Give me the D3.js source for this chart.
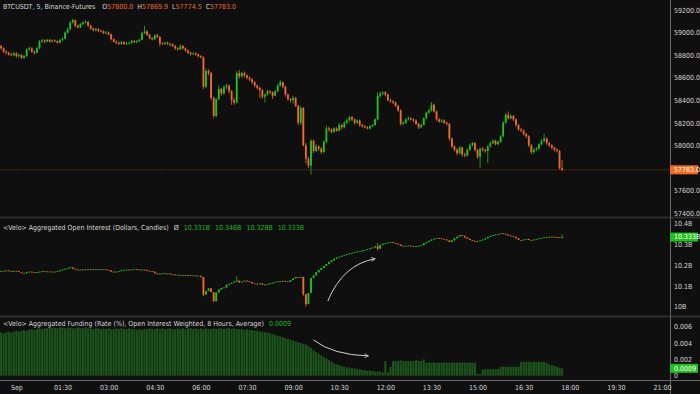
<!DOCTYPE html>
<html lang="en">
<head>
<meta charset="utf-8">
<title>BTCUSDT 5m with OI and funding</title>
<script src="https://cdn.jsdelivr.net/npm/d3@7"></script>
<style>
  body { margin: 0; background: #0f0f0f; }
  svg text { font-family: "Liberation Sans Narrow", "DejaVu Sans Condensed", "Liberation Sans", sans-serif; font-size: 7px; }
</style>
</head>
<body>
<script>

// Width and height
var w = 700;
var h = 394;

// first bar: 23:30 the day before, 5 minute bars
var startTime = Date.UTC(2024, 7, 31, 23, 30);
var barMinutes = 5;

// price candles (open of each bar = close of the bar before)
var priceOpen0 = 58880;
var priceClose = [
  58860,58830,58820,58805,58800,58815,58790,58800,58775,58790,
  58850,58860,58830,58820,58860,58920,58930,58920,58935,58920,
  58930,58925,58910,58935,58945,59000,59030,59090,59110,59060,
  59045,59075,59090,59095,59060,59035,59020,59030,59015,59010,
  58995,59000,58985,58940,58920,58910,58900,58915,58900,58905,
  58910,58925,58915,58925,58935,58995,59010,58980,58950,58940,
  58975,58960,58905,58900,58910,58900,58895,58880,58860,58850,
  58880,58860,58840,58820,58810,58815,58805,58790,58780,58520,
  58660,58640,58420,58260,58410,58500,58460,58520,58530,58480,
  58400,58380,58640,58610,58640,58620,58600,58585,58560,58530,
  58510,58490,58430,58450,58480,58470,58440,58480,58530,58560,
  58520,58450,58410,58400,58420,58350,58200,58330,58000,57880,
  57820,58040,57950,57990,57970,57940,58030,58150,58140,58120,
  58150,58130,58180,58160,58200,58220,58250,58230,58200,58220,
  58180,58170,58160,58150,58170,58180,58230,58440,58460,58470,
  58450,58400,58390,58380,58350,58310,58190,58200,58230,58240,
  58230,58220,58190,58160,58180,58240,58290,58310,58360,58300,
  58230,58210,58220,58200,58190,58060,57990,57960,57930,57980,
  57920,57910,57960,58000,58020,57960,57900,57970,57960,57950,
  57990,58020,58040,58010,58030,58080,58200,58270,58240,58260,
  58230,58180,58140,58130,58100,58080,58000,57940,57960,57970,
  58010,58040,58060,58020,58000,57980,57960,57950,57800,57783
];
var priceHigh = [
  58890,58870,58845,58830,58820,58830,58825,58815,58810,58800,
  58860,58875,58870,58840,58870,58935,58945,58940,58945,58945,
  58940,58940,58930,58945,58960,59010,59045,59100,59125,59115,
  59070,59085,59100,59110,59100,59070,59045,59040,59040,59025,
  59020,59015,59010,58990,58950,58930,58920,58925,58925,58915,
  58920,58935,58935,58935,58945,59005,59060,59020,58990,58960,
  58985,58990,58970,58915,58920,58920,58910,58905,58890,58870,
  58895,58890,58870,58850,58830,58825,58825,58815,58800,58790,
  58680,58675,58650,58430,58420,58530,58510,58530,58545,58540,
  58490,58420,58660,58670,58650,58655,58630,58610,58595,58570,
  58540,58520,58500,58460,58495,58490,58480,58490,58545,58580,
  58565,58530,58460,58420,58440,58430,58360,58350,58340,58020,
  57900,58055,58050,58010,58000,57985,58045,58175,58165,58150,
  58160,58160,58200,58190,58215,58235,58265,58260,58240,58230,
  58230,58190,58180,58170,58180,58190,58240,58470,58475,58480,
  58480,58460,58415,58400,58390,58360,58320,58215,58240,58255,
  58250,58240,58230,58200,58195,58250,58300,58325,58385,58370,
  58310,58240,58235,58230,58210,58200,58070,58000,57975,57995,
  57990,57935,57975,58015,58030,58030,57970,57980,57985,57970,
  58000,58035,58055,58050,58045,58090,58215,58285,58300,58275,
  58270,58240,58190,58155,58140,58110,58090,58010,57975,57985,
  58020,58055,58100,58070,58030,58010,57990,57975,57960,57869.9
];
var priceLow = [
  58850,58820,58805,58795,58790,58790,58780,58780,58765,58770,
  58785,58840,58820,58805,58815,58855,58910,58905,58915,58910,
  58910,58915,58900,58905,58925,58940,58990,59020,59080,59045,
  59035,59040,59065,59080,59050,59025,59010,59010,59005,59000,
  58985,58985,58975,58930,58910,58895,58890,58890,58890,58890,
  58895,58900,58905,58905,58915,58930,58985,58970,58940,58930,
  58935,58950,58880,58890,58890,58890,58880,58870,58845,58840,
  58845,58850,58830,58810,58795,58800,58795,58780,58770,58500,
  58510,58620,58400,58240,58250,58400,58440,58450,58500,58460,
  58360,58360,58370,58590,58600,58600,58585,58570,58545,58515,
  58495,58420,58415,58380,58440,58455,58410,58435,58470,58520,
  58505,58430,58395,58380,58370,58340,58180,58180,57990,57840,
  57800,57740,57930,57940,57950,57925,57930,58020,58120,58105,
  58110,58120,58125,58140,58150,58190,58210,58215,58185,58190,
  58165,58155,58150,58140,58140,58160,58175,58220,58420,58445,
  58435,58390,58375,58365,58340,58295,58175,58180,58190,58220,
  58220,58205,58180,58145,58150,58175,58230,58280,58300,58290,
  58215,58200,58200,58190,58175,58040,57975,57945,57910,57920,
  57900,57895,57900,57950,57990,57945,57880,57800,57945,57935,
  57845,57980,58010,58000,58000,58020,58070,58190,58230,58230,
  58215,58165,58130,58115,58085,58065,57985,57920,57925,57950,
  57960,58000,58030,58005,57985,57965,57945,57935,57785,57774.5
];

// aggregated open interest candles, billions of dollars
var oiOpen0 = 10.170;
var oiClose = [
  10.172,10.170,10.174,10.171,10.168,10.172,10.170,10.166,10.162,10.160,
  10.166,10.168,10.165,10.162,10.166,10.168,10.170,10.167,10.169,10.168,
  10.166,10.168,10.170,10.175,10.178,10.182,10.186,10.188,10.182,10.178,
  10.176,10.178,10.176,10.179,10.178,10.180,10.177,10.179,10.180,10.178,
  10.179,10.177,10.174,10.168,10.166,10.168,10.170,10.175,10.177,10.178,
  10.176,10.178,10.180,10.178,10.176,10.178,10.177,10.172,10.170,10.168,
  10.160,10.156,10.158,10.160,10.157,10.159,10.156,10.154,10.152,10.153,
  10.151,10.152,10.150,10.151,10.149,10.150,10.147,10.148,10.142,10.058,
  10.075,10.088,10.070,10.026,10.068,10.082,10.090,10.092,10.105,10.110,
  10.115,10.120,10.125,10.116,10.120,10.125,10.122,10.118,10.112,10.110,
  10.108,10.112,10.106,10.104,10.108,10.112,10.115,10.118,10.122,10.120,
  10.124,10.122,10.120,10.128,10.136,10.142,10.140,10.143,10.060,10.012,
  10.066,10.138,10.150,10.165,10.176,10.186,10.196,10.205,10.214,10.222,
  10.230,10.236,10.240,10.244,10.248,10.252,10.256,10.258,10.262,10.264,
  10.266,10.270,10.272,10.276,10.280,10.284,10.290,10.278,10.296,10.302,
  10.305,10.308,10.310,10.306,10.302,10.298,10.292,10.290,10.292,10.293,
  10.290,10.288,10.290,10.292,10.295,10.304,10.310,10.316,10.322,10.326,
  10.330,10.328,10.325,10.322,10.318,10.310,10.318,10.328,10.336,10.343,
  10.340,10.332,10.326,10.320,10.316,10.312,10.315,10.318,10.322,10.328,
  10.335,10.340,10.343,10.346,10.348,10.352,10.350,10.346,10.341,10.338,
  10.335,10.328,10.320,10.318,10.322,10.325,10.320,10.318,10.322,10.325,
  10.328,10.330,10.332,10.335,10.333,10.336,10.334,10.333,10.331,10.3338
];
// OI bars with a visible wick: [bar, high, low]
var oiWicks = [
  [27, 10.192, null], [79, null, 10.050], [83, null, 10.022], [92, 10.146, null],
  [118, null, 10.050], [119, null, 10.000], [147, 10.305, 10.270], [219, 10.346, 10.328]
];

// aggregated funding rate (%)
var funding = [
  .0053,.0052,.0053,.0054,.0053,.0054,.0055,.0054,.0055,.0056,
  .0055,.0056,.0057,.0056,.0057,.0058,.0057,.0058,.0058,.0059,
  .0058,.0059,.0058,.0059,.0059,.0058,.0059,.0059,.0058,.0058,
  .0059,.0058,.0058,.0059,.0058,.0058,.0057,.0058,.0058,.0057,
  .0058,.0057,.0058,.0057,.0057,.0058,.0057,.0058,.0057,.0057,
  .0058,.0057,.0057,.0056,.0057,.0056,.0057,.0057,.0058,.0057,
  .0057,.0058,.0057,.0058,.0057,.0057,.0058,.0057,.0057,.0058,
  .0057,.0058,.0057,.0058,.0058,.0057,.0058,.0057,.0058,.0057,
  .0058,.0057,.0057,.0058,.0057,.0058,.0058,.0057,.0058,.0058,
  .0057,.0058,.0057,.0057,.0057,.0056,.0057,.0056,.0056,.0055,
  .0055,.0054,.0054,.0053,.0053,.0052,.0051,.0050,.0049,.0048,
  .0047,.0046,.0045,.0044,.0043,.0042,.0041,.0040,.0039,.0038,
  .0036,.0034,.0031,.0029,.0027,.0025,.0023,.0021,.0019,.0017,
  .0015,.0014,.0013,.0012,.0011,.0010,.0010,.0009,.0009,.0008,
  .0008,.0007,.0007,.0006,.0006,.0006,.0005,.0005,.0005,.0004,
  .0018,.0004,.0011,.0018,.0018,.0018,.0019,.0018,.0018,.0018,
  .0018,.0018,.0019,.0018,.0018,.0020,.0016,.0016,.0016,.0016,
  .0016,.0016,.0016,.0016,.0016,.0016,.0016,.0016,.0016,.0016,
  .0016,.0016,.0016,.0016,.0016,.0016,.0002,.0002,.0008,.0008,
  .0008,.0008,.0008,.0008,.0008,.0011,.0011,.0011,.0011,.0011,
  .0011,.0011,.0011,.0017,.0017,.0017,.0017,.0017,.0017,.0017,
  .0017,.0017,.0017,.0016,.0014,.0013,.0012,.0011,.0010,.0009
];

// axis ticks (57800 sits under the last price tag)
var timeTickLabels = ["Sep","01:30","03:00","04:30","06:00","07:30","09:00","10:30","12:00","13:30","15:00","16:30","18:00","19:30","21:00"];
var timeTickHours  = [0, 1.5, 3, 4.5, 6, 7.5, 9, 10.5, 12, 13.5, 15, 16.5, 18, 19.5, 21];
var priceTicks = [57400, 57600, 58000, 58200, 58400, 58600, 58800, 59000, 59200];
var oiTicks = [10.0, 10.1, 10.2, 10.3, 10.4];
var fundingTicks = [0, 0.002, 0.004, 0.006];

// hand drawn arrows: [hour of day, value]
var oiArrow = [[10.13, 10.027], [10.62, 10.203], [11.67, 10.230]];
var fundingArrow = [[9.66, 0.00438], [10.30, 0.00254], [11.45, 0.00242]];

// legend values
var lastBar = { o: "57800.0", h: "57869.9", l: "57774.5", c: "57783.0" };
var oiLegend = ["10.331B", "10.346B", "10.328B", "10.333B"];
var fundingLegend = "0.0009";

var upColor = "#22bf22";
var downColor = "#ee692c";
var textColor = "#d6d6d6";
var day0 = Date.UTC(2024, 8, 1, 0, 0);
var hourMs = 3600000;

// build bars
var priceBars = priceClose.map(function(c, i) {
  return { t: new Date(startTime + i * barMinutes * 60000),
           o: i === 0 ? priceOpen0 : priceClose[i - 1],
           h: priceHigh[i], l: priceLow[i], c: c };
});
var oiBars = oiClose.map(function(c, i) {
  var o = i === 0 ? oiOpen0 : oiClose[i - 1];
  return { t: new Date(startTime + i * barMinutes * 60000), o: o, c: c,
           h: Math.max(o, c), l: Math.min(o, c) };
});
oiWicks.forEach(function(wk) {
  if (wk[1] !== null) oiBars[wk[0]].h = wk[1];
  if (wk[2] !== null) oiBars[wk[0]].l = wk[2];
});
var fundBars = funding.map(function(f, i) {
  return { t: new Date(startTime + i * barMinutes * 60000), f: f };
});

// scales
var xScale = d3.scaleUtc()
               .domain([new Date(day0), new Date(day0 + 21 * hourMs)])
               .range([16.4, 662]);
var step = xScale(new Date(day0 + barMinutes * 60000)) - xScale(new Date(day0));

var yPrice = d3.scaleLinear().domain([57400, 59200]).range([213, 10]);
var yOi = d3.scaleLinear().domain([10.0, 10.4]).range([306.7, 223.3]);
var yFund = d3.scaleLinear().domain([0, 0.006]).range([375.7, 326.7]);

var svg = d3.select("body")
            .append("svg")
            .attr("width", w)
            .attr("height", h);

svg.append("rect").attr("width", w).attr("height", h).attr("fill", "#0f0f0f");

var defs = svg.append("defs");
[["clipPrice", 0, 217], ["clipOi", 219, 315], ["clipFund", 318, 380]].forEach(function(c) {
  defs.append("clipPath").attr("id", c[0])
      .append("rect").attr("x", 0).attr("y", c[1]).attr("width", 670).attr("height", c[2] - c[1]);
});
defs.append("marker")
    .attr("id", "arrowHead")
    .attr("viewBox", "0 0 10 10")
    .attr("refX", 9).attr("refY", 5)
    .attr("markerWidth", 5).attr("markerHeight", 5)
    .attr("orient", "auto")
    .append("path")
    .attr("d", "M1,1 L9,5 L1,9")
    .attr("fill", "none")
    .attr("stroke", "#d0d0d0")
    .attr("stroke-width", 1.6);

// pane separators and axis borders
svg.selectAll("line.sep")
   .data([217.5, 316.5])
   .enter()
   .append("line")
   .attr("class", "sep")
   .attr("x1", 0).attr("x2", w)
   .attr("y1", function(d) { return d; })
   .attr("y2", function(d) { return d; })
   .attr("stroke", "#2e2e2e")
   .attr("stroke-width", 2);
svg.append("line").attr("x1", 0).attr("x2", w).attr("y1", 380.5).attr("y2", 380.5)
   .attr("stroke", "#666").attr("stroke-width", 1);
svg.append("line").attr("x1", 670.5).attr("x2", 670.5).attr("y1", 0).attr("y2", h)
   .attr("stroke", "#666").attr("stroke-width", 1);

// candle drawing helper
function drawCandles(g, bars, y) {
  g.selectAll("line.wick")
   .data(bars)
   .enter()
   .append("line")
   .attr("class", "wick")
   .attr("x1", function(d) { return xScale(d.t); })
   .attr("x2", function(d) { return xScale(d.t); })
   .attr("y1", function(d) { return y(d.h); })
   .attr("y2", function(d) { return y(d.l); })
   .attr("stroke", function(d) { return d.c >= d.o ? upColor : downColor; })
   .attr("stroke-width", 0.8);

  g.selectAll("rect.body")
   .data(bars)
   .enter()
   .append("rect")
   .attr("class", "body")
   .attr("x", function(d) { return xScale(d.t) - step * 0.36; })
   .attr("width", step * 0.72)
   .attr("y", function(d) { return y(Math.max(d.o, d.c)); })
   .attr("height", function(d) { return Math.max(0.8, Math.abs(y(d.o) - y(d.c))); })
   .attr("fill", function(d) { return d.c >= d.o ? upColor : downColor; });
}

// Price pane
var pricePane = svg.append("g").attr("clip-path", "url(#clipPrice)");
var lastClose = priceClose[priceClose.length - 1];
pricePane.append("line")
   .attr("x1", 0).attr("x2", 670)
   .attr("y1", yPrice(lastClose)).attr("y2", yPrice(lastClose))
   .attr("stroke", "#ee692c")
   .attr("stroke-opacity", 0.45)
   .attr("stroke-dasharray", "1,1");
drawCandles(pricePane, priceBars, yPrice);

// OI pane
var oiPane = svg.append("g").attr("clip-path", "url(#clipOi)");
drawCandles(oiPane, oiBars, yOi);

// Funding pane
var fundPane = svg.append("g").attr("clip-path", "url(#clipFund)");
fundPane.selectAll("rect")
   .data(fundBars)
   .enter()
   .append("rect")
   .attr("x", function(d) { return xScale(d.t) - step * 0.42; })
   .attr("width", step * 0.84)
   .attr("y", function(d) { return yFund(d.f); })
   .attr("height", function(d) { return yFund(0) - yFund(d.f); })
   .attr("fill", "#1c521c");

// arrows
var arrowLine = function(pts, y) {
  var p = pts.map(function(d) { return [xScale(new Date(day0 + d[0] * hourMs)), y(d[1])]; });
  return "M" + p[0] + " Q" + p[1] + " " + p[2];
};
svg.append("path").attr("d", arrowLine(oiArrow, yOi))
   .attr("fill", "none").attr("stroke", "#d0d0d0").attr("stroke-width", 1)
   .attr("marker-end", "url(#arrowHead)");
svg.append("path").attr("d", arrowLine(fundingArrow, yFund))
   .attr("fill", "none").attr("stroke", "#d0d0d0").attr("stroke-width", 1)
   .attr("marker-end", "url(#arrowHead)");

// right axes
function rightAxis(y, ticks, fmt) {
  var g = svg.append("g")
             .attr("transform", "translate(670,0)")
             .call(d3.axisRight(y).tickValues(ticks).tickFormat(fmt).tickSize(0).tickPadding(4));
  g.select(".domain").remove();
  g.selectAll("text").attr("fill", textColor).attr("font-size", "7px")
   .attr("font-family", null);
}
rightAxis(yPrice, priceTicks, d3.format(".1f"));
rightAxis(yOi, oiTicks, function(d) { return d === 10 ? "10B" : d.toFixed(1) + "B"; });
rightAxis(yFund, fundingTicks, function(d) { return d === 0 ? "0" : d.toFixed(3); });

// last value labels
function valueTag(y, text, color) {
  svg.append("rect").attr("x", 670).attr("y", y - 4.5).attr("width", 28).attr("height", 9)
     .attr("fill", color);
  svg.append("text").attr("x", 674).attr("y", y).attr("dy", "0.34em")
     .attr("fill", "#ffffff").text(text);
}
valueTag(yPrice(lastClose), lastBar.c, "#f26b1f");
valueTag(yOi(oiClose[oiClose.length - 1]), oiLegend[3], "#20c020");
valueTag(yFund(funding[funding.length - 1]), fundingLegend, "#20c020");

// time axis
var tAxis = svg.append("g")
               .attr("transform", "translate(0,380)")
               .call(d3.axisBottom(xScale)
                       .tickValues(timeTickHours.map(function(d) { return new Date(day0 + d * hourMs); }))
                       .tickFormat(function(d, i) { return timeTickLabels[i]; })
                       .tickSize(0).tickPadding(5));
tAxis.select(".domain").remove();
tAxis.selectAll("text").attr("fill", textColor).attr("font-size", "7px").attr("font-family", null);

// legends
var head = svg.append("text").attr("x", 3).attr("y", 9.3).attr("fill", textColor);
head.append("tspan").text("BTCUSDT, 5, Binance-Futures");
[["O", lastBar.o], ["H", lastBar.h], ["L", lastBar.l], ["C", lastBar.c]].forEach(function(d, i) {
  head.append("tspan").attr("dx", i === 0 ? 7 : 4).text(d[0]);
  head.append("tspan").attr("fill", "#ee692c").text(d[1]);
});

var oiText = svg.append("text").attr("x", 3).attr("y", 229.5).attr("fill", textColor);
oiText.append("tspan").text("<Velo> Aggregated Open Interest (Dollars, Candles)");
oiText.append("tspan").attr("dx", 5).text("Ø");
oiLegend.forEach(function(v) {
  oiText.append("tspan").attr("dx", 5).attr("fill", "#22b422").text(v);
});

var fText = svg.append("text").attr("x", 3).attr("y", 325.5).attr("fill", textColor);
fText.append("tspan").text("<Velo> Aggregated Funding (Rate (%), Open Interest Weighted, 8 Hours, Average)");
fText.append("tspan").attr("dx", 5).attr("fill", "#22b422").text(fundingLegend);

</script>
</body>
</html>
